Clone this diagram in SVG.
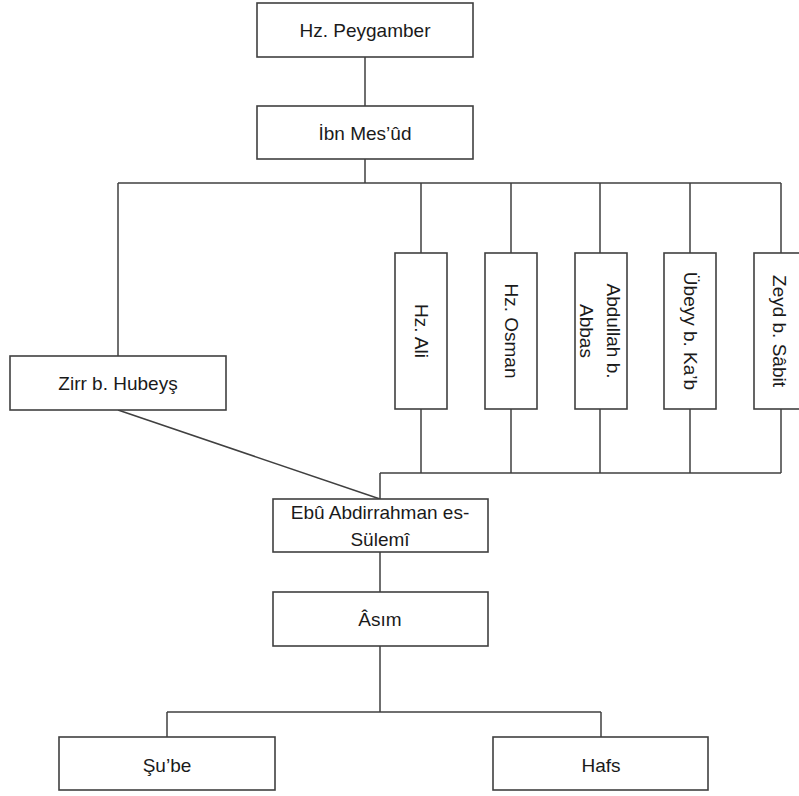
<svg xmlns="http://www.w3.org/2000/svg" width="799" height="796" viewBox="0 0 799 796">
<style>
.box{fill:#fff;stroke:#404040;stroke-width:1.6}
.ln{fill:none;stroke:#404040;stroke-width:1.5}
.t{font-family:"Liberation Sans",Arial,sans-serif;font-size:19px;fill:#1a1a1a;text-anchor:middle;dominant-baseline:central}
</style>
<rect width="799" height="796" fill="#fff"/>
<g id="connectors">
<path class="ln" d="M365 57V106M365 159V183M118 183H781M118 183V356M421 183V253M511 183V253M600 183V253M690 183V253M781 183V253"/>
<path class="ln" d="M421 409V473M511 409V473M600 409V473M690 409V473M781 409V473M380 473H781M380 473V499"/>
<path class="ln" d="M118 410L380 499"/>
<path class="ln" d="M380 552V592M380 646V712M167 712H601M167 712V737M601 712V737"/>
</g>
<g id="n-peygamber"><rect class="box" x="257" y="3" width="216" height="54"/><text class="t" x="365" y="30">Hz. Peygamber</text></g>
<g id="n-ibnmesud"><rect class="box" x="257" y="106" width="216" height="53"/><text class="t" x="365" y="133">İbn Mes’ûd</text></g>
<g id="n-zirr"><rect class="box" x="10" y="356" width="216" height="54"/><text class="t" x="118" y="383">Zirr b. Hubeyş</text></g>
<g id="n-ali"><rect class="box" x="395" y="253" width="52" height="156"/><text class="t" transform="translate(421,331) rotate(90)">Hz. Ali</text></g>
<g id="n-osman"><rect class="box" x="485" y="253" width="52" height="156"/><text class="t" transform="translate(511,331) rotate(90)">Hz. Osman</text></g>
<g id="n-abdullah"><rect class="box" x="575" y="253" width="52" height="156"/><text class="t" transform="translate(600,331) rotate(90)"><tspan x="0" y="-13.5">Abdullah b.</tspan><tspan x="0" y="13.5">Abbas</tspan></text></g>
<g id="n-ubeyy"><rect class="box" x="664" y="253" width="52" height="156"/><text class="t" transform="translate(690,331) rotate(90)">Übeyy b. Ka’b</text></g>
<g id="n-zeyd"><rect class="box" x="754" y="253" width="52" height="156"/><text class="t" transform="translate(779,331) rotate(90)">Zeyd b. Sâbit</text></g>
<g id="n-ebu"><rect class="box" x="273" y="499" width="215" height="53"/><text class="t" x="380" y="512">Ebû Abdirrahman es-</text><text class="t" x="380" y="539">Sülemî</text></g>
<g id="n-asim"><rect class="box" x="273" y="592" width="215" height="54"/><text class="t" x="380" y="619">Âsım</text></g>
<g id="n-sube"><rect class="box" x="59" y="737" width="216" height="53"/><text class="t" x="167" y="765">Şu’be</text></g>
<g id="n-hafs"><rect class="box" x="493" y="737" width="215" height="53"/><text class="t" x="601" y="765">Hafs</text></g>
</svg>
